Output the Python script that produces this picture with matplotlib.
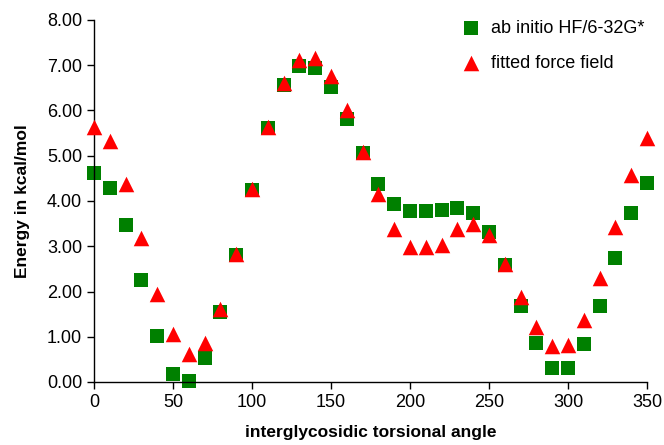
import matplotlib
matplotlib.use('Agg')
from matplotlib import pyplot
from matplotlib.ticker import FormatStrFormatter

pyplot.rcParams['font.family'] = ['Liberation Sans', 'DejaVu Sans']

# torsional angle (degrees)
angle = list(range(0, 360, 10))

# ab initio HF/6-32G* energies (kcal/mol)
abinitio = [4.62, 4.28, 3.46, 2.26, 1.02, 0.17, 0.02, 0.52, 1.55, 2.80,
            4.24, 5.62, 6.57, 6.98, 6.95, 6.52, 5.82, 5.05, 4.38, 3.93,
            3.78, 3.77, 3.80, 3.84, 3.73, 3.31, 2.58, 1.68, 0.87, 0.31,
            0.31, 0.83, 1.67, 2.75, 3.73, 4.39]

# fitted force field energies (kcal/mol)
fitted = [5.63, 5.33, 4.38, 3.19, 1.95, 1.05, 0.62, 0.87, 1.62, 2.83,
          4.27, 5.64, 6.60, 7.12, 7.17, 6.76, 6.02, 5.08, 4.15, 3.38,
          2.99, 2.99, 3.03, 3.38, 3.50, 3.24, 2.60, 1.88, 1.22, 0.80,
          0.82, 1.37, 2.30, 3.42, 4.58, 5.40]

fig = pyplot.figure(figsize=(6.64, 4.45), dpi=100)
ax = fig.add_axes([94/664, 63/445, 553/664, 362/445])

ax.scatter(angle, abinitio, marker='s', s=95, c='#008000', linewidths=0,
           label='ab initio HF/6-32G*', zorder=2)
ax.scatter(angle, fitted, marker='^', s=125, c='#ff0000', linewidths=0,
           label='fitted force field', zorder=3)

ax.set_xlim(0, 350)
ax.set_ylim(0, 8)
ax.set_xticks(range(0, 351, 50))
ax.set_yticks(range(0, 9))
ax.yaxis.set_major_formatter(FormatStrFormatter('%.2f'))
ax.tick_params(direction='out', length=5, width=1, labelsize=13, colors='black')
for side in ('top', 'right'):
    ax.spines[side].set_visible(False)
for side in ('left', 'bottom'):
    ax.spines[side].set_linewidth(1)
for c in ax.collections:
    c.set_clip_on(False)

ax.set_xlabel('interglycosidic torsional angle', fontsize=12.5, fontweight='bold', labelpad=10)
ax.set_ylabel('Energy in kcal/mol', fontsize=12.5, fontweight='bold', labelpad=12)

ax.legend(loc='upper right', bbox_to_anchor=(1.025, 1.045), frameon=False, fontsize=13,
          handletextpad=0.1, labelspacing=1.0, scatterpoints=1)

fig.savefig('out.png', dpi=100)
